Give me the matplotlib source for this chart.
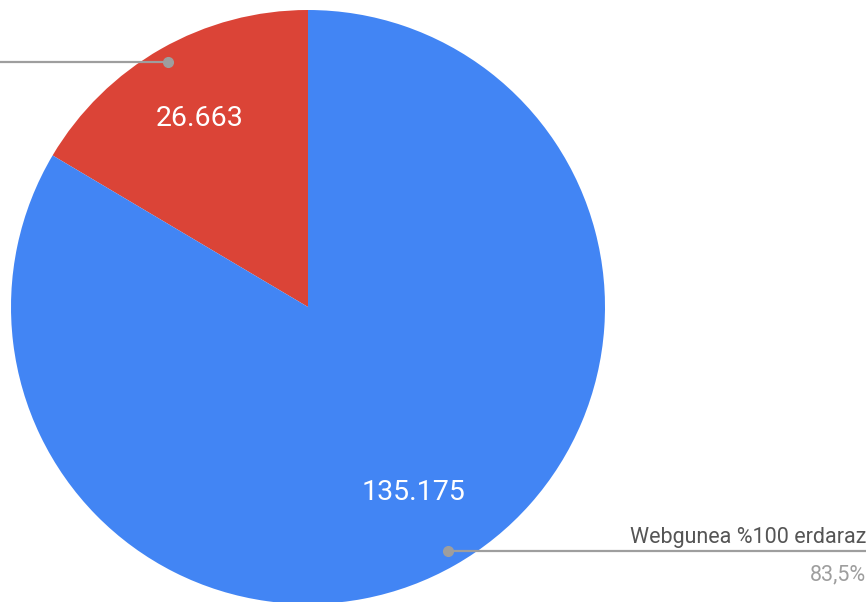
import matplotlib.pyplot as plt

plt.rcParams['font.family'] = ['Roboto', 'DejaVu Sans']

# data
labels = ["Euskaraz", "Webgunea %100 erdaraz"]
values = [26663, 135175]
value_text = ["26.663", "135.175"]
colors = ["#DB4437", "#4285F4"]

W, H = 868, 602
fig = plt.figure(figsize=(W / 100, H / 100), dpi=100)
ax = fig.add_axes([0, 0, 1, 1])

cx, cy, r = 308, H - 307, 297
wedges, _ = ax.pie(values, colors=colors, startangle=90, counterclock=True,
                   center=(cx, cy), radius=r, frame=True,
                   wedgeprops={"linewidth": 0})
ax.set_xlim(0, W)
ax.set_ylim(0, H)
ax.set_aspect("equal")
ax.axis("off")

# value labels inside slices
ax.text(200, H - 119, value_text[0], color="white", fontsize=20.5, ha="center", va="center")
ax.text(413, H - 493, value_text[1], color="white", fontsize=20.5, ha="center", va="center")

# leader lines
lc = "#9e9e9e"
ax.plot([0, 168], [H - 62, H - 62], color=lc, lw=1.6, solid_capstyle="butt")
ax.plot([168], [H - 62], "o", color=lc, ms=7)
ax.plot([448, 866], [H - 551, H - 551], color=lc, lw=1.6, solid_capstyle="butt")
ax.plot([448], [H - 551], "o", color=lc, ms=7)

total = sum(values)
pct = f"{values[1] / total * 100:.1f}%".replace(".", ",")
ax.text(866, H - 537, labels[1], color="#555555", fontsize=15.5, ha="right", va="center")
ax.text(866, H - 575, pct, color="#9e9e9e", fontsize=15.5, ha="right", va="center")

fig.savefig("out.png", dpi=100)
